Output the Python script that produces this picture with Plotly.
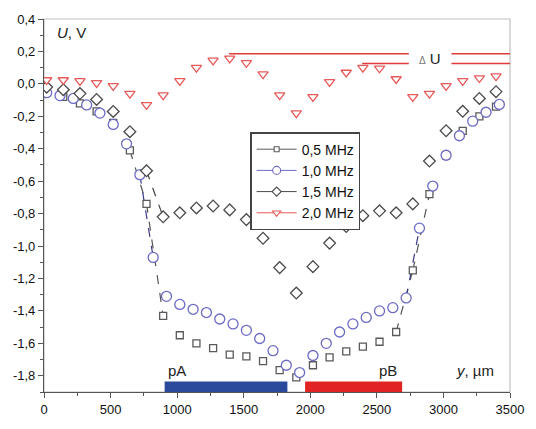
import plotly.graph_objects as go

# ---- data ----
x_125 = [20, 145, 270, 395, 520, 645, 770, 895, 1020, 1145, 1270, 1395, 1520, 1645,
         1770, 1895, 2020, 2145, 2270, 2395, 2520, 2645, 2770, 2895, 3020, 3145, 3270, 3395]
x_100 = [20 + 100 * i for i in range(35)]

u_05 = [-0.03, -0.08, -0.12, -0.17, -0.24, -0.41, -0.74, -1.43, -1.55, -1.60, -1.63, -1.67,
        -1.68, -1.71, -1.765, -1.81, -1.735, -1.687, -1.65, -1.62, -1.59, -1.53, -1.15,
        -0.68, -0.44, -0.29, -0.20, -0.14]
u_10 = [-0.054, -0.072, -0.09, -0.13, -0.18, -0.25, -0.37, -0.56, -1.07, -1.31, -1.36,
        -1.39, -1.41, -1.45, -1.48, -1.52, -1.57, -1.645, -1.735, -1.78, -1.675, -1.60,
        -1.53, -1.48, -1.44, -1.40, -1.38, -1.32, -0.89, -0.63, -0.44, -0.32, -0.23,
        -0.175, -0.127]
u_15 = [-0.02, -0.036, -0.06, -0.096, -0.17, -0.295, -0.536, -0.82, -0.795, -0.765,
        -0.753, -0.777, -0.837, -0.952, -1.133, -1.29, -1.127, -0.982, -0.88, -0.813,
        -0.783, -0.795, -0.74, -0.476, -0.289, -0.169, -0.09, -0.048]
u_20 = [0.024, 0.024, 0.018, 0.006, -0.012, -0.06, -0.13, -0.07, 0.018, 0.10, 0.145,
        0.157, 0.13, 0.06, -0.07, -0.18, -0.08, 0.012, 0.07, 0.10, 0.096, 0.03, -0.08,
        -0.06, -0.012, 0.018, 0.036, 0.048]

series_names = ["0,5 MHz", "1,0 MHz", "1,5 MHz", "2,0 MHz"]
x_ticks = [0, 500, 1000, 1500, 2000, 2500, 3000, 3500]
y_ticks = [0.4, 0.2, 0.0, -0.2, -0.4, -0.6, -0.8, -1.0, -1.2, -1.4, -1.6, -1.8]
y_ticklabels = ["0,4", "0,2", "0,0", "-0,2", "-0,4", "-0,6", "-0,8", "-1,0", "-1,2",
                "-1,4", "-1,6", "-1,8"]

# regions pA / pB  (x start, x end)
pA = [906, 1828]
pB = [1961, 2690]
du_high = 0.185
du_low = 0.125
du_gap = [2740, 3060]

# ---- styles ----
styles = [
    dict(symbol="square", size=7, lc="#5a5a5a", linec="#555555"),
    dict(symbol="circle", size=10, lc="#6b6bc4", linec="#3a3a8a"),
    dict(symbol="diamond", size=9, lc="#4a4a4a", linec="#444444"),
    dict(symbol="triangle-down", size=9, lc="#e85a5a", linec="#e85a5a"),
]
all_x = [x_125, x_100, x_125, x_125]
all_u = [u_05, u_10, u_15, u_20]

fig = go.Figure()

# steep connecting segments (lines visible only where points are far apart)
for xs, us, st in zip(all_x, all_u, styles):
    sx, sy = [], []
    for i in range(len(xs) - 1):
        if abs(us[i + 1] - us[i]) > 0.28:
            sx += [xs[i], xs[i + 1], None]
            sy += [us[i], us[i + 1], None]
    if sx:
        fig.add_trace(go.Scatter(x=sx, y=sy, mode="lines", showlegend=False,
                                 line=dict(color=st["linec"], width=1.2, dash="dash"),
                                 hoverinfo="skip"))

for xs, us, st, name in zip(all_x, all_u, styles, series_names):
    fig.add_trace(go.Scatter(
        x=xs, y=us, mode="markers", name=name, showlegend=False,
        marker=dict(symbol=st["symbol"], size=st["size"], color="white",
                    line=dict(color=st["lc"], width=1.3))))
    fig.add_trace(go.Scatter(
        x=[None], y=[None], mode="lines+markers", name=name,
        marker=dict(symbol=st["symbol"], size=st["size"] - 2, color="white",
                    line=dict(color=st["lc"], width=1.1)),
        line=dict(color=st["lc"], width=1)))

# delta U lines
i_peak1 = u_20.index(max(u_20[:15]))
i_peak2 = 15 + u_20[15:].index(max(u_20[15:]))
for y0, xstart in [(du_high, x_125[i_peak1] - 5), (du_low, x_125[i_peak2] - 5)]:
    for xa, xb in [(xstart, du_gap[0]), (du_gap[1], 3500)]:
        fig.add_shape(type="line", x0=xa, x1=xb, y0=y0, y1=y0, xref="x", yref="y",
                      line=dict(color="#e03a3a", width=1.5))

# region bars
fig.add_shape(type="rect", x0=pA[0], x1=pA[1], y0=-1.9, y1=-1.835, xref="x", yref="y",
              fillcolor="#2b4a9c", line=dict(width=0))
fig.add_shape(type="rect", x0=pB[0], x1=pB[1], y0=-1.9, y1=-1.835, xref="x", yref="y",
              fillcolor="#e02424", line=dict(width=0))

# frame
fig.add_shape(type="rect", x0=0, x1=1, y0=0, y1=1, xref="paper", yref="paper",
              line=dict(color="#c0c0c0", width=1.2), layer="below")

font = "Liberation Sans, Arial, sans-serif"
ann = [
    dict(x=pA[0] + 10, y=-1.765, text="pA", xanchor="left"),
    dict(x=pB[1] - 20, y=-1.765, text="pB", xanchor="right"),
    dict(x=3080, y=-1.765, text="<i>y</i>, µm", xanchor="left"),
    dict(x=80, y=0.315, text="<i>U</i>, V", xanchor="left"),
    dict(x=(du_gap[0] + du_gap[1]) / 2, y=0.155,
         text="<span style='font-size:10px;color:#777'>Δ</span> U", xanchor="center"),
]
for a in ann:
    fig.add_annotation(x=a["x"], y=a["y"], text=a["text"], xanchor=a["xanchor"],
                       yanchor="middle", showarrow=False,
                       font=dict(family=font, size=15, color="#222"))

fig.update_layout(
    width=536, height=429,
    margin=dict(l=44, r=20, t=18, b=29),
    paper_bgcolor="white", plot_bgcolor="white",
    font=dict(family=font, size=13, color="#111"),
    legend=dict(x=0.443, y=0.696, xanchor="left", yanchor="top",
                bgcolor="white", bordercolor="#444", borderwidth=1.2,
                font=dict(size=14, color="#111"), tracegroupgap=0,
                itemwidth=40),
    xaxis=dict(range=[0, 3500], tickvals=x_ticks, showgrid=False, zeroline=False,
               showline=True, linecolor="#555", linewidth=1.2,
               ticks="outside", ticklen=5, tickcolor="#555",
               minor=dict(ticks="outside", ticklen=3, dtick=250, tickcolor="#555"),
               tickfont=dict(size=13, color="#111")),
    yaxis=dict(range=[-1.9, 0.4], tickvals=y_ticks, ticktext=y_ticklabels,
               showgrid=False, zeroline=False,
               showline=True, linecolor="#555", linewidth=1.2,
               ticks="outside", ticklen=5, tickcolor="#555",
               minor=dict(ticks="outside", ticklen=3, dtick=0.1, tickcolor="#555"),
               tickfont=dict(size=13, color="#111")),
)

fig.write_html("out.html")
